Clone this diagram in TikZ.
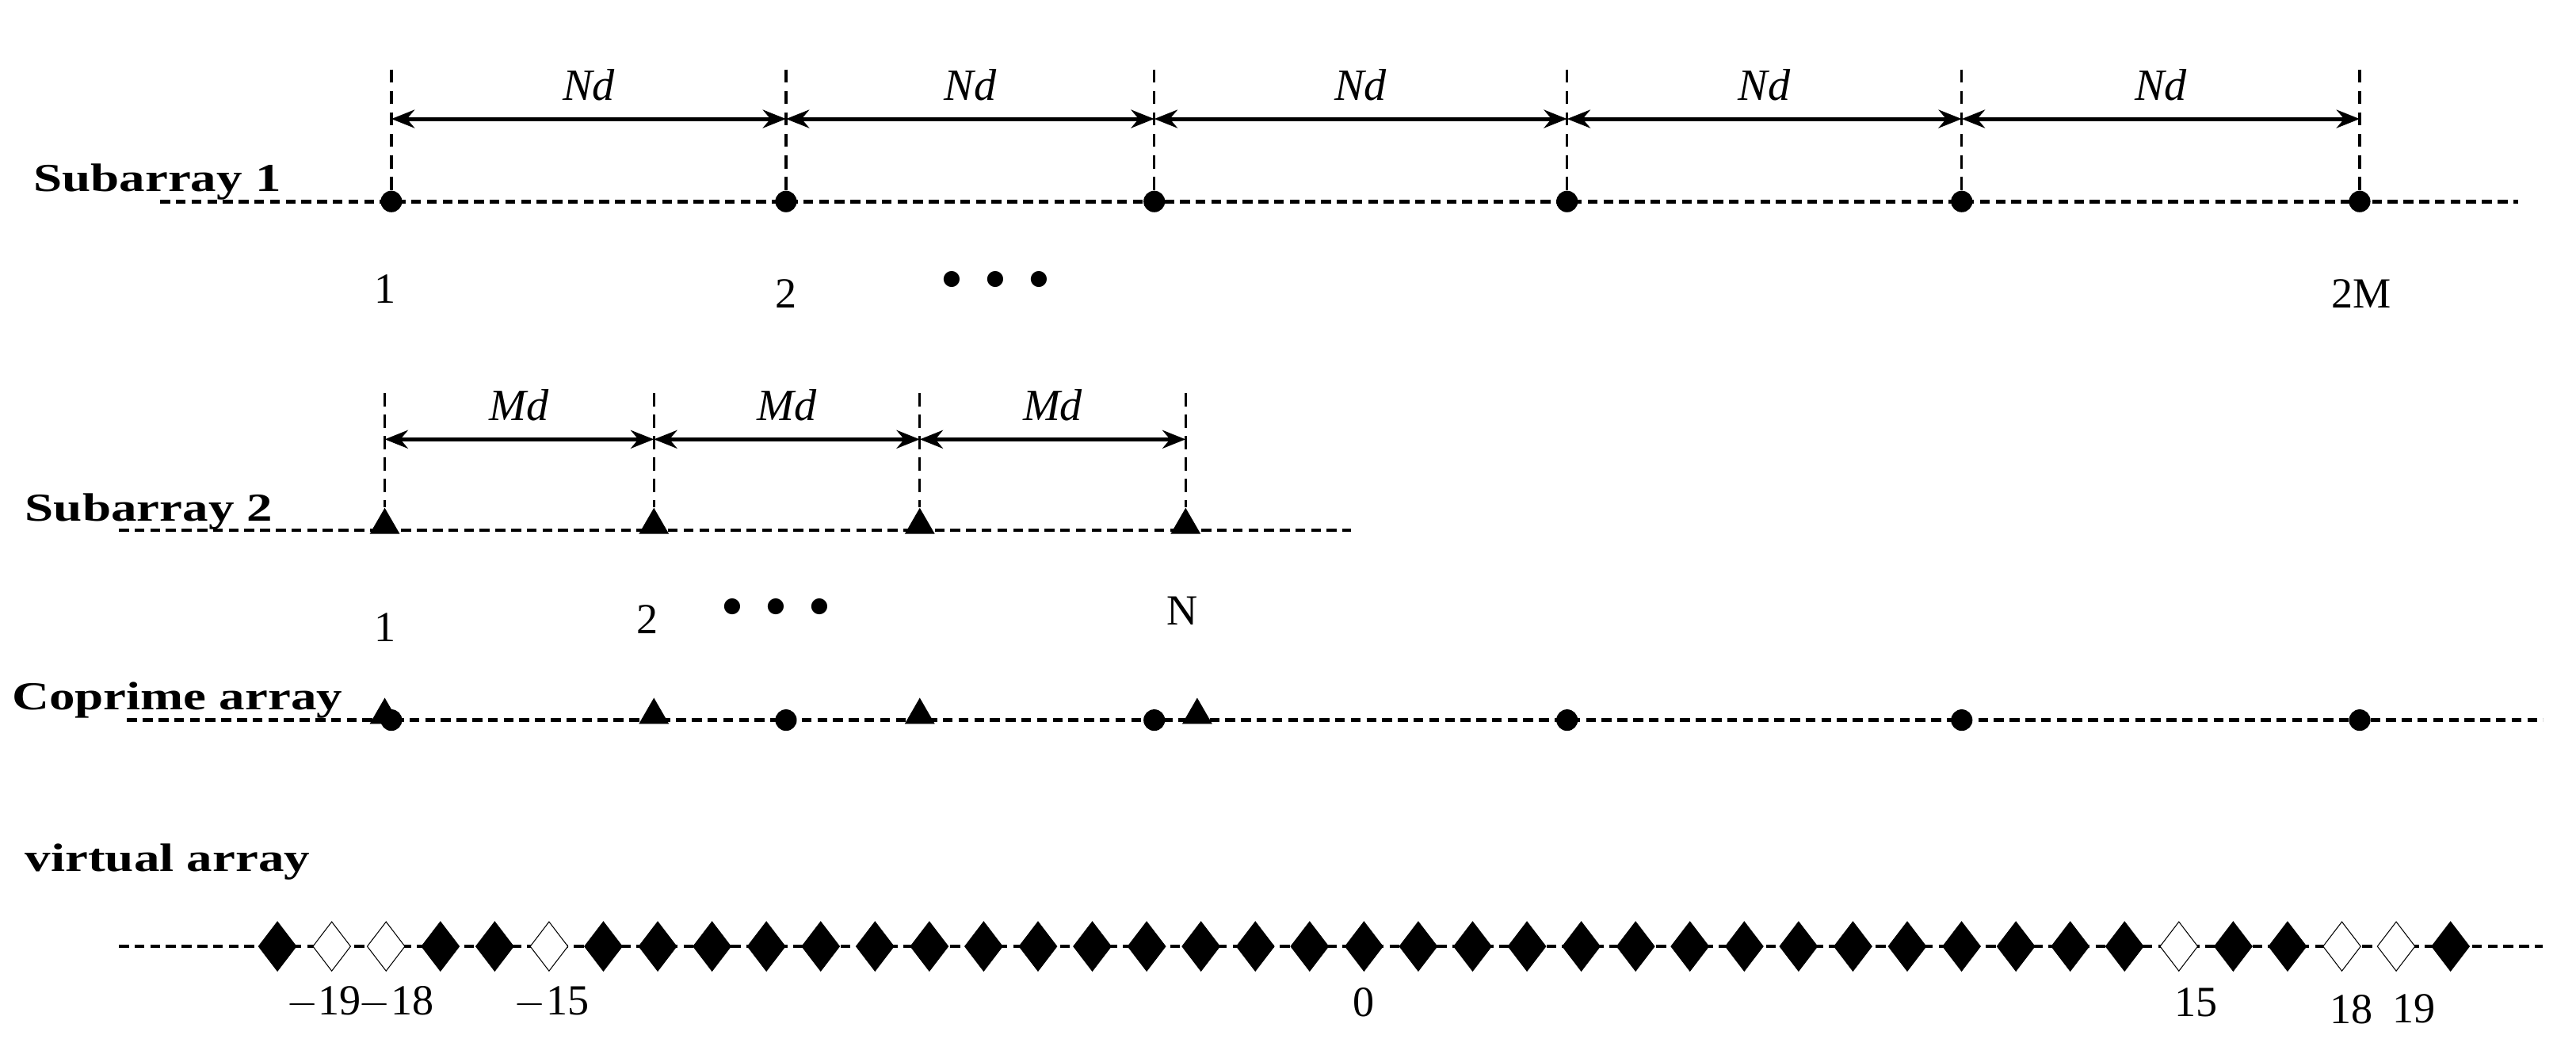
\documentclass[tikz,border=0pt]{standalone}
\usepackage{fontspec}
\setmainfont{Liberation Serif}
\usetikzlibrary{arrows.meta,shapes.geometric}
\begin{document}
\begin{tikzpicture}[x=1pt,y=-1pt,
  base/.style={dash pattern=on 6pt off 3.5pt,line width=2.2pt},
  guide/.style={dash pattern=on 8pt off 5pt,line width=1.6pt},
  dim/.style={{Stealth[length=14pt,width=11pt]}-{Stealth[length=14pt,width=11pt]},line width=2.4pt},
  lab/.style={font=\fontsize{24}{26}\selectfont\bfseries,anchor=west,inner sep=0,xscale=1.3},
  num/.style={font=\fontsize{26}{28}\selectfont,inner sep=0},
  dl/.style={font=\fontsize{27}{29}\selectfont\itshape,inner sep=0},
  dot/.style={circle,fill=black,minimum size=13pt,inner sep=0},
  tri/.style={regular polygon,regular polygon sides=3,fill=black,minimum size=21pt,inner sep=0},
  dia/.style={diamond,draw=black,line width=0.5pt,minimum width=23pt,minimum height=30pt,inner sep=0,aspect=0.77},
  fdia/.style={dia,fill=black},
  odia/.style={dia,fill=white}]
\useasboundingbox (0,0) rectangle (1560,629);
% Subarray 1
\node[lab] (l1) at (20,110) {Subarray 1};
\coordinate (s1a) at (97,122); \coordinate (s1b) at (1525,122);
\draw[base] (s1a) -- (s1b);
\foreach \x [count=\i] in {237,476,699,949,1188,1429}{
  \coordinate (t\i) at (\x,42); \coordinate (m\i) at (\x,72);
  \node[dot] (p\i) at (\x,122) {};
  \draw[guide] (t\i) -- (p\i);
}
\foreach \i/\j in {1/2,2/3,3/4,4/5,5/6}{
  \draw[dim] (m\i) -- node[dl,above=10pt] {Nd} (m\j);
}
\node[num] (n11) at (233,175) {1};
\node[num] (n12) at (476,178) {2};
\node[num] (d1) at (603,170) {\fontsize{34}{34}\selectfont$\bullet\ \bullet\ \bullet$};
\node[num] (n1M) at (1430,178) {2M};
% Subarray 2
\node[lab] (l2) at (15,310) {Subarray 2};
\coordinate (s2a) at (72,321); \coordinate (s2b) at (818,321);
\draw[base] (s2a) -- (s2b);
\foreach \x [count=\i] in {233,396,557,718}{
  \coordinate (u\i) at (\x,238); \coordinate (k\i) at (\x,266);
  \node[tri] (q\i) at (\x,318) {};
  \draw[guide] (u\i) -- (q\i);
}
\foreach \i/\j in {1/2,2/3,3/4}{
  \draw[dim] (k\i) -- node[dl,above=10pt] {Md} (k\j);
}
\node[num] (n21) at (233,380) {1};
\node[num] (n22) at (392,375) {2};
\node[num] (d2) at (470,368) {\fontsize{34}{34}\selectfont$\bullet\ \bullet\ \bullet$};
\node[num] (n2N) at (716,370) {N};
% Coprime
\node[lab] (l3) at (7,424) {Coprime array};
\coordinate (c3a) at (77,436); \coordinate (c3b) at (1540,436);
\draw[base] (c3a) -- (c3b);
\foreach \x [count=\i] in {237,476,699,949,1188,1429}{\node[dot] (cp\i) at (\x,436) {};}
\foreach \x [count=\i] in {233,396,557,725}{\node[tri] (ct\i) at (\x,433) {};}
% Virtual
\node[lab] (l4) at (15,522) {virtual array};
\coordinate (v4a) at (72,573); \coordinate (v4b) at (1540,573);
\draw[base] (v4a) -- (v4b);
\foreach \k in {-20,...,20}{
  \pgfmathtruncatemacro{\a}{abs(\k)}
  \ifnum\a=19 \node[odia] (v\k) at (826+32.9*\k,573) {};
  \else\ifnum\a=18 \node[odia] (v\k) at (826+32.9*\k,573) {};
  \else\ifnum\a=15 \node[odia] (v\k) at (826+32.9*\k,573) {};
  \else \node[fdia] (v\k) at (826+32.9*\k,573) {};
  \fi\fi\fi
}
\node[num] (w1) at (196,607) {$-$19};
\node[num] (w2) at (240,607) {$-$18};
\node[num] (w3) at (334,607) {$-$15};
\node[num] (w4) at (826,607) {0};
\node[num] (w5) at (1330,607) {15};
\node[num] (w6) at (1424,611) {18};
\node[num] (w7) at (1462,611) {19};
\end{tikzpicture}
\end{document}
